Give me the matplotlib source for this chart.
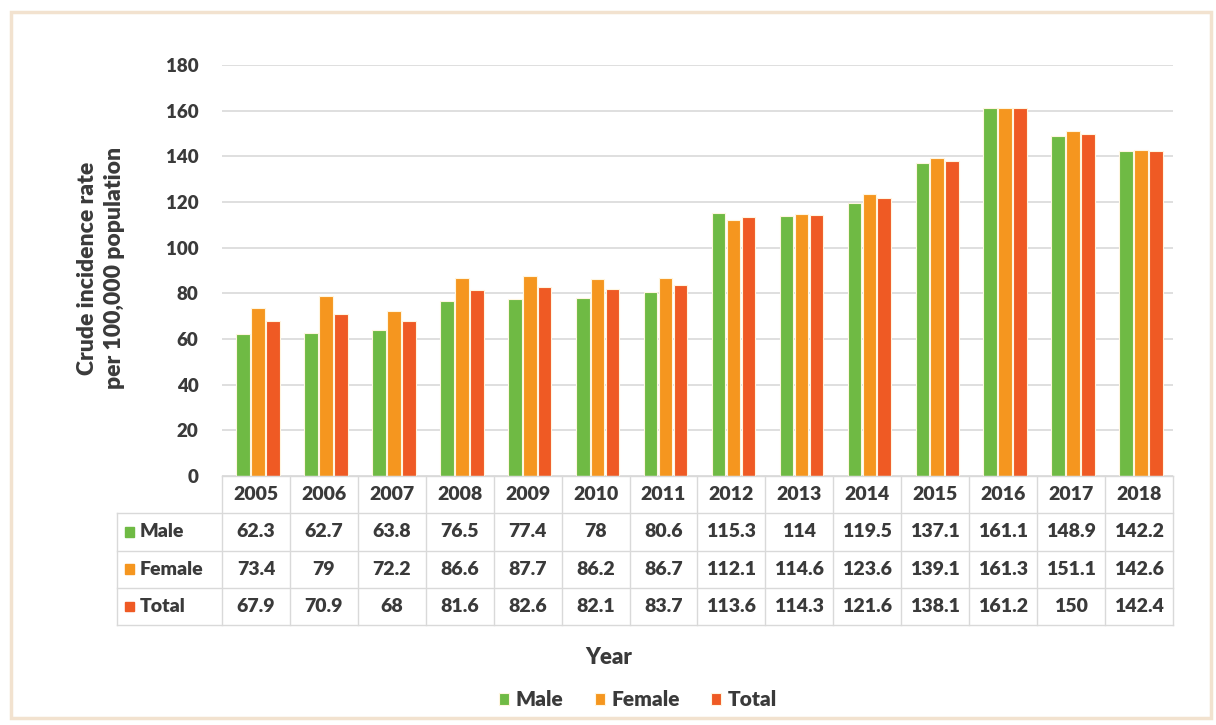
import matplotlib.pyplot as plt
from matplotlib.patches import Rectangle
from matplotlib.lines import Line2D

plt.rcParams['font.family'] = ['Lato', 'DejaVu Sans']

# 数据
years = ['2005', '2006', '2007', '2008', '2009', '2010', '2011',
         '2012', '2013', '2014', '2015', '2016', '2017', '2018']
male = [62.3, 62.7, 63.8, 76.5, 77.4, 78, 80.6, 115.3, 114, 119.5, 137.1, 161.1, 148.9, 142.2]
female = [73.4, 79, 72.2, 86.6, 87.7, 86.2, 86.7, 112.1, 114.6, 123.6, 139.1, 161.3, 151.1, 142.6]
total = [67.9, 70.9, 68, 81.6, 82.6, 82.1, 83.7, 113.6, 114.3, 121.6, 138.1, 161.2, 150, 142.4]
series = ['Male', 'Female', 'Total']
colors = ['#6fba44', '#f5961f', '#ef5a24']
yticks = [0, 20, 40, 60, 80, 100, 120, 140, 160, 180]

text_color = '#3a3a3a'
grid_color = '#d9d9d9'
fw = 'heavy'

fig = plt.figure(figsize=(12.16, 7.25), dpi=100)

# 外框
fig.patches.append(Rectangle((0.009, 0.01), 0.987, 0.973, transform=fig.transFigure,
                             fill=False, edgecolor='#f2e2cf', linewidth=2.5))

# 柱状图
ax = fig.add_axes([0.1826, 0.3434, 0.782, 0.5669])
x = list(range(len(years)))
offsets = [-0.19, 0.03, 0.25]
for vals, off, c, name in zip([male, female, total], offsets, colors, series):
    ax.bar([i + off for i in x], vals, width=0.2, color=c, edgecolor='#fff6e0',
           linewidth=0.8, label=name, zorder=3)

ax.set_xlim(-0.5, len(years) - 0.5)
ax.set_ylim(0, 180)
ax.set_yticks(yticks)
ax.set_yticklabels([str(t) for t in yticks], fontsize=13.5, fontweight=fw, color=text_color)
ax.tick_params(axis='y', length=0, pad=17)
ax.set_xticks([])
ax.grid(axis='y', color=grid_color, linewidth=1.2, zorder=0)
for s in ax.spines.values():
    s.set_visible(False)

fig.text(101 / 1216, 1 - 268 / 725, 'Crude incidence rate\nper 100,000 population',
         rotation=90, ha='center', va='center', multialignment='center',
         fontsize=16.5, fontweight=fw, color=text_color, linespacing=1.35)

# 数据表
tax = fig.add_axes([0.1826, 0.1379, 0.782, 0.2055])
tax.set_xlim(-0.5, len(years) - 0.5)
tax.set_ylim(4, 0)
tax.axis('off')

label_left = -2.05
for r in range(5):
    x0 = -0.5 if r == 0 else label_left
    tax.add_line(Line2D([x0, len(years) - 0.5], [r, r], color=grid_color,
                        linewidth=1, clip_on=False))
for c in range(len(years) + 1):
    tax.add_line(Line2D([c - 0.5, c - 0.5], [0, 4], color=grid_color,
                        linewidth=1, clip_on=False))
tax.add_line(Line2D([label_left, label_left], [1, 4], color=grid_color,
                    linewidth=1, clip_on=False))

for i, y in enumerate(years):
    tax.text(i, 0.5, y, ha='center', va='center', fontsize=14,
             fontweight=fw, color=text_color)
for r, (vals, c, name) in enumerate(zip([male, female, total], colors, series)):
    row_y = r + 1.5
    tax.add_patch(Rectangle((label_left + 0.12, row_y - 0.13), 0.13, 0.26,
                            color=c, clip_on=False))
    tax.text(label_left + 0.34, row_y, name, ha='left', va='center', fontsize=14,
             fontweight=fw, color=text_color, clip_on=False)
    for i, v in enumerate(vals):
        tax.text(i, row_y, f'{v:g}', ha='center', va='center', fontsize=14,
                 fontweight=fw, color=text_color)

fig.text(609 / 1216, 1 - 657 / 725, 'Year', ha='center', va='center', fontsize=16,
         fontweight=fw, color=text_color)

handles, labels = ax.get_legend_handles_labels()
leg = fig.legend(handles, labels, loc='center', bbox_to_anchor=(638 / 1216, 1 - 700 / 725),
                 ncol=3, frameon=False, handlelength=0.5, handleheight=0.5,
                 handletextpad=0.3, columnspacing=1.5, prop={'size': 15, 'weight': fw})
for t in leg.get_texts():
    t.set_color(text_color)

fig.savefig('out.png', dpi=100)
